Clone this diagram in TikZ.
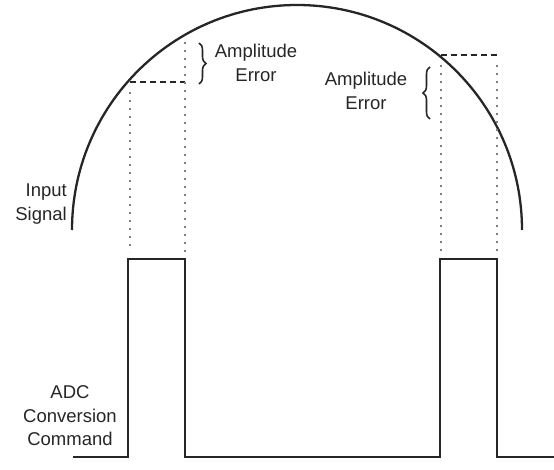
\documentclass[tikz,border=0pt]{standalone}
\usepackage{fontspec}
\setmainfont{Liberation Sans}
\usetikzlibrary{decorations.pathreplacing}
\begin{document}
\begin{tikzpicture}[x=1pt,y=-1pt,
  sig/.style={line width=2.3pt,black!85,line join=miter},
  dotline/.style={line width=2pt,black!50,line cap=butt,dash pattern=on 2pt off 6pt},
  dashline/.style={line width=2pt,black!85,dash pattern=on 6pt off 4pt},
  bracestyle/.style={line width=1.6pt,black!85,decorate,decoration={brace,amplitude=7pt}},
  lbl/.style={font=\fontsize{18.5}{23.5}\selectfont,text=black!85,align=center,inner sep=0pt}]
\useasboundingbox (0,0) rectangle (554,470);
% input signal arc
\coordinate (arcL) at (72,230);
\coordinate (arcR) at (522,230);
\draw[sig] (arcL) arc[start angle=180,end angle=360,radius=225];
% pulses
\coordinate (b0) at (73,457);
\coordinate (p1a) at (128,457);
\coordinate (p1b) at (128,259);
\coordinate (p1c) at (185,259);
\coordinate (p1d) at (185,457);
\coordinate (p2a) at (440,457);
\coordinate (p2b) at (440,259);
\coordinate (p2c) at (497,259);
\coordinate (p2d) at (497,457);
\coordinate (b1) at (554,457);
\draw[sig] (b0) -- (p1a) -- (p1b) -- (p1c) -- (p1d) -- (p2a) -- (p2b) -- (p2c) -- (p2d) -- (b1);
% left sample
\coordinate (s1) at (130,82);
\coordinate (s1r) at (185,82);
\coordinate (s1t) at (185,42);
\draw[dashline] (s1) -- (s1r);
\draw[dotline] (130,92) -- (130,252);
\draw[dotline] (s1t) -- (185,252);
% right sample
\coordinate (s2) at (441,55);
\coordinate (s2r) at (497,55);
\draw[dashline] (s2) -- (s2r);
\draw[dotline] (441,65) -- (441,252);
\draw[dotline] (497,65) -- (497,252);
% braces
\coordinate (br1t) at (199,43);
\coordinate (br1b) at (199,84);
\draw[bracestyle] (br1t) -- (br1b);
\coordinate (br2t) at (430,67);
\coordinate (br2b) at (430,119);
\draw[bracestyle] (br2b) -- (br2t);
% labels
\node[lbl] (amp1) at (256,63) {Amplitude\\Error};
\node[lbl] (amp2) at (366,91) {Amplitude\\Error};
\node[lbl,align=right,anchor=east] (inp) at (67,204) {Input\\Signal};
\node[lbl] (adc) at (70,416) {ADC\\Conversion\\Command};
\end{tikzpicture}
\end{document}
